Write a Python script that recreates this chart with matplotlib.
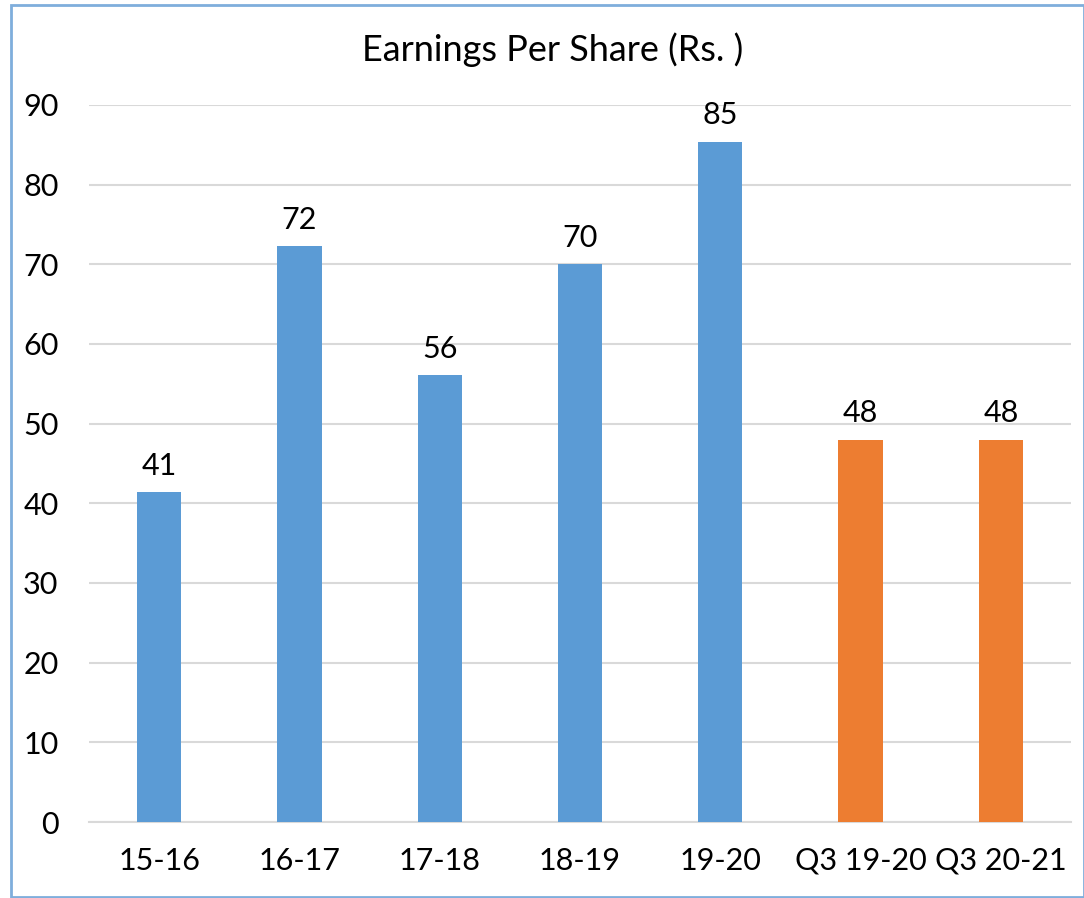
import matplotlib.pyplot as plt
from matplotlib.patches import Rectangle

# data
categories = ['15-16', '16-17', '17-18', '18-19', '19-20', 'Q3 19-20', 'Q3 20-21']
eps = [41.4, 72.3, 56.1, 70.0, 85.4, 48.0, 48.0]
labels = ['41', '72', '56', '70', '85', '48', '48']
colors = ['#5B9BD5'] * 5 + ['#ED7D31'] * 2

plt.rcParams['font.family'] = ['Lato', 'DejaVu Sans']

fig = plt.figure(figsize=(10.84, 8.98), dpi=100)
ax = fig.add_axes([89 / 1084, 1 - 822 / 898, (1071 - 89) / 1084, (822 - 105) / 898])

x = range(len(categories))
bars = ax.bar(x, eps, width=0.315, color=colors, zorder=3)

for b, lab in zip(bars, labels):
    ax.annotate(lab, (b.get_x() + b.get_width() / 2, b.get_height()),
                xytext=(0, 9), textcoords='offset points',
                ha='center', va='bottom', fontsize=22, color='black')

ax.set_xlim(-0.5, len(categories) - 0.5)
ax.set_ylim(0, 90)
ax.set_yticks(range(0, 91, 10))
ax.set_xticks(list(x))
ax.set_xticklabels(categories)
ax.tick_params(axis='both', length=0, labelsize=22)
ax.tick_params(axis='y', pad=22)
ax.tick_params(axis='x', pad=18)
ax.grid(axis='y', color='#D9D9D9', linewidth=1.5, zorder=0)
for s in ['top', 'right', 'left']:
    ax.spines[s].set_visible(False)
ax.spines['bottom'].set_color('#D9D9D9')
ax.spines['bottom'].set_linewidth(1.5)

fig.text(553 / 1084, 1 - 50 / 898, 'Earnings Per Share (Rs. )', ha='center', va='center', fontsize=26)

# outer border
fig.patches.append(Rectangle((10.5 / 1084, 1 - 897 / 898), 1073 / 1084, 892 / 898,
                             transform=fig.transFigure, fill=False,
                             edgecolor='#7FAEDC', linewidth=2))

fig.savefig('out.png', dpi=100)
